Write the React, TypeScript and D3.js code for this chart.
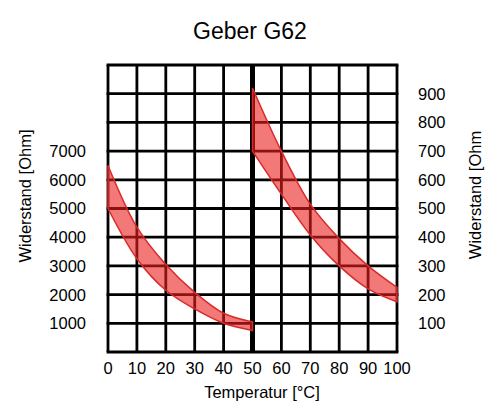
import { useRef, useEffect } from 'react';
import * as d3 from 'd3';

// Values
const xTicks = [0, 10, 20, 30, 40, 50, 60, 70, 80, 90, 100];
const leftTicks = [1000, 2000, 3000, 4000, 5000, 6000, 7000];
const rightTicks = [100, 200, 300, 400, 500, 600, 700, 800, 900];

const tempsLow = [0, 10, 20, 30, 40, 50];
const lowUpper = [6500, 4350, 3050, 2080, 1350, 1050];
const lowLower = [5000, 3250, 2150, 1500, 1000, 750];

const tempsHigh = [50, 60, 70, 80, 90, 100];
const highUpper = [920, 700, 515, 395, 300, 225];
const highLower = [700, 550, 408, 300, 220, 175];

const width = 500;
const height = 413;
const font = '"Liberation Sans", Arial, sans-serif';

export default function App() {
  const svgRef = useRef<SVGSVGElement>(null);

  useEffect(() => {
    if (!svgRef.current) return;
    const svg = d3.select(svgRef.current);
    svg.selectAll('*').remove();

    const plot = { left: 108, right: 397, top: 65, bottom: 352 };

    const x = d3.scaleLinear().domain([0, 100]).range([plot.left, plot.right]);
    const yLeft = d3.scaleLinear().domain([0, 10000]).range([plot.bottom, plot.top]);
    const yRight = d3.scaleLinear().domain([0, 1000]).range([plot.bottom, plot.top]);

    // Grid
    const grid = svg.append('g');
    xTicks.forEach(t => {
      grid.append('line')
        .attr('x1', x(t)).attr('x2', x(t))
        .attr('y1', plot.top).attr('y2', plot.bottom)
        .attr('stroke', '#000')
        .attr('stroke-width', t === 50 ? 5 : 2.8);
    });
    d3.range(0, 10001, 1000).forEach(v => {
      grid.append('line')
        .attr('x1', plot.left - 1.4).attr('x2', plot.right + 1.4)
        .attr('y1', yLeft(v)).attr('y2', yLeft(v))
        .attr('stroke', '#000')
        .attr('stroke-width', 2.8);
    });

    // Tolerance bands
    const bandLow = d3.area<number>()
      .x((_, i) => x(tempsLow[i]))
      .y0((_, i) => yLeft(lowLower[i]))
      .y1(d => yLeft(d))
      .curve(d3.curveCatmullRom.alpha(0.5));

    const bandHigh = d3.area<number>()
      .x((_, i) => x(tempsHigh[i]))
      .y0((_, i) => yRight(highLower[i]))
      .y1(d => yRight(d))
      .curve(d3.curveCatmullRom.alpha(0.5));

    svg.append('path')
      .datum(lowUpper)
      .attr('d', bandLow)
      .attr('fill', 'rgba(235,30,30,0.6)')
      .attr('stroke', '#d92a2a')
      .attr('stroke-width', 1.5);

    svg.append('path')
      .datum(highUpper)
      .attr('d', bandHigh)
      .attr('fill', 'rgba(235,30,30,0.6)')
      .attr('stroke', '#d92a2a')
      .attr('stroke-width', 1.5);

    // Tick labels
    svg.append('g')
      .selectAll('text')
      .data(xTicks)
      .join('text')
      .attr('x', d => x(d))
      .attr('y', 374)
      .attr('text-anchor', 'middle')
      .attr('font-family', font)
      .attr('font-size', 16.5)
      .text(d => d);

    svg.append('g')
      .selectAll('text')
      .data(leftTicks)
      .join('text')
      .attr('x', 86)
      .attr('y', d => yLeft(d))
      .attr('dy', '0.36em')
      .attr('text-anchor', 'end')
      .attr('font-family', font)
      .attr('font-size', 16.5)
      .text(d => d);

    svg.append('g')
      .selectAll('text')
      .data(rightTicks)
      .join('text')
      .attr('x', 418)
      .attr('y', d => yRight(d))
      .attr('dy', '0.36em')
      .attr('text-anchor', 'start')
      .attr('font-family', font)
      .attr('font-size', 16.5)
      .text(d => d);

    // Titles
    svg.append('text')
      .attr('x', 250)
      .attr('y', 39)
      .attr('text-anchor', 'middle')
      .attr('font-family', font)
      .attr('font-size', 23)
      .text('Geber G62');

    svg.append('text')
      .attr('x', 262)
      .attr('y', 398)
      .attr('text-anchor', 'middle')
      .attr('font-family', font)
      .attr('font-size', 16.5)
      .text('Temperatur [°C]');

    svg.append('text')
      .attr('transform', 'translate(31,196) rotate(-90)')
      .attr('text-anchor', 'middle')
      .attr('font-family', font)
      .attr('font-size', 16.5)
      .text('Widerstand [Ohm]');

    svg.append('text')
      .attr('transform', 'translate(481,195) rotate(-90)')
      .attr('text-anchor', 'middle')
      .attr('font-family', font)
      .attr('font-size', 16.5)
      .text('Widerstand [Ohm');
  }, []);

  return (
    <div style={{ position: 'absolute', left: 0, top: 0, background: '#fff' }}>
      <svg ref={svgRef} width={width} height={height} style={{ display: 'block' }} />
    </div>
  );
}
